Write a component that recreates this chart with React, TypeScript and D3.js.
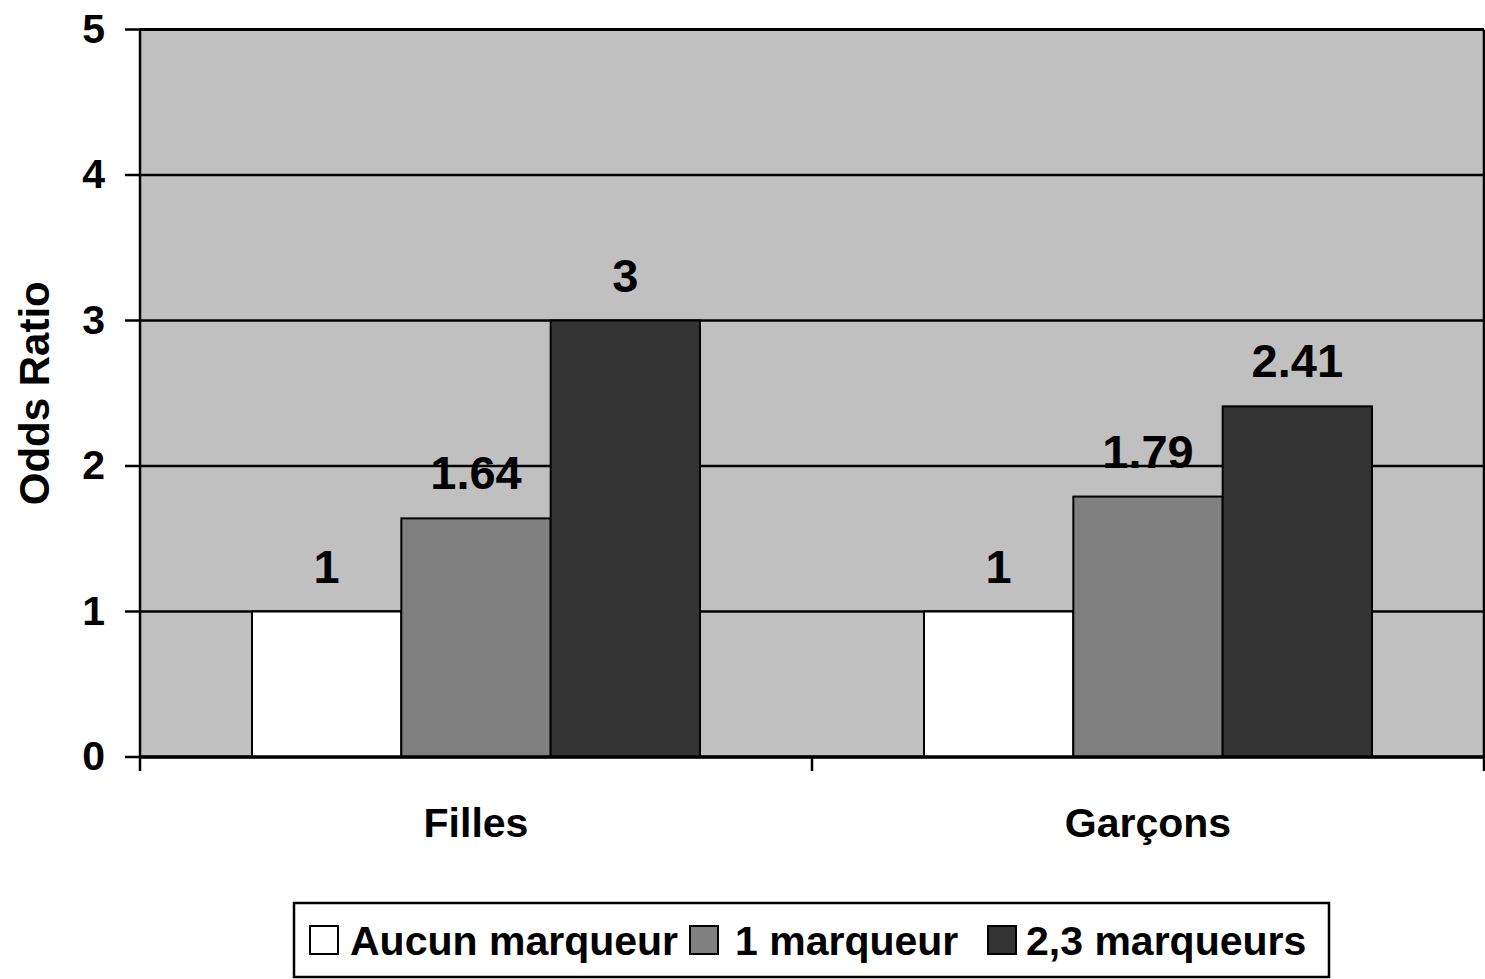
import React from "react";
import * as d3 from "d3";

const categories = ["Filles", "Garçons"];
const seriesNames = ["Aucun marqueur", "1 marqueur", "2,3 marqueurs"];
const seriesColors = ["#FFFFFF", "#808080", "#333333"];
const filles = [1, 1.64, 3];
const garcons = [1, 1.79, 2.41];
const valueLabels = [["1", "1.64", "3"], ["1", "1.79", "2.41"]];
const yTicks = [0, 1, 2, 3, 4, 5];

const W = 1485;
const H = 979;
const M = { left: 140, right: 1484, top: 29.5, bottom: 757 };
const FONT = "'Liberation Sans', Arial, sans-serif";

export default function App() {
  const data = [filles, garcons];
  const x0 = d3.scaleBand<string>().domain(categories).range([M.left, M.right]).paddingInner(0).paddingOuter(0);
  const bw = x0.bandwidth() / 4.5;
  const x1 = d3.scaleBand<number>().domain([0, 1, 2]).range([0, bw * 3]).padding(0);
  const y = d3.scaleLinear().domain([0, 5]).range([M.bottom, M.top]);

  const legendItems = [
    { sx: 310, tx: 350 },
    { sx: 690, tx: 735 },
    { sx: 988, tx: 1026 },
  ];

  return (
    <svg width={W} height={H} style={{ position: "absolute", left: 0, top: 0, fontFamily: FONT }}>
      <rect x={M.left} y={M.top} width={M.right - M.left} height={M.bottom - M.top} fill="#C0C0C0" />
      {yTicks.map((t) => (
        <g key={t}>
          <line x1={125} x2={M.right} y1={y(t)} y2={y(t)} stroke="#000" strokeWidth={2.5} />
          <text x={105} y={y(t) + 13} textAnchor="end" fontSize={41} fontWeight="bold" fill="#000">
            {t}
          </text>
        </g>
      ))}
      {data.map((vals, ci) => {
        const gx = (x0(categories[ci]) as number) + (x0.bandwidth() - bw * 3) / 2;
        return (
          <g key={ci}>
            {vals.map((v, si) => {
              const bx = gx + (x1(si) as number);
              return (
                <g key={si}>
                  <rect
                    x={bx}
                    y={y(v)}
                    width={x1.bandwidth()}
                    height={y(0) - y(v)}
                    fill={seriesColors[si]}
                    stroke="#000"
                    strokeWidth={2}
                  />
                  <text
                    x={bx + x1.bandwidth() / 2}
                    y={y(v) - 29}
                    textAnchor="middle"
                    fontSize={47}
                    fontWeight="bold"
                    fill="#000"
                  >
                    {valueLabels[ci][si]}
                  </text>
                </g>
              );
            })}
          </g>
        );
      })}
      {/* plot frame */}
      <line x1={M.left} x2={M.left} y1={M.top} y2={M.bottom + 14} stroke="#000" strokeWidth={2.5} />
      <line x1={M.right} x2={M.right} y1={M.top} y2={M.bottom + 14} stroke="#000" strokeWidth={2.5} />
      <line x1={M.left} x2={M.right} y1={M.top} y2={M.top} stroke="#000" strokeWidth={3} />
      <line x1={M.left} x2={M.right} y1={M.bottom} y2={M.bottom} stroke="#000" strokeWidth={3.5} />
      {categories.map((c, i) => {
        const bx = x0(c) as number;
        return (
          <g key={c}>
            {i > 0 && <line x1={bx} x2={bx} y1={M.bottom} y2={M.bottom + 14} stroke="#000" strokeWidth={2.5} />}
            <text x={bx + x0.bandwidth() / 2} y={837} textAnchor="middle" fontSize={41} fontWeight="bold" fill="#000">
              {c}
            </text>
          </g>
        );
      })}
      <text
        transform={`translate(49, ${(M.top + M.bottom) / 2}) rotate(-90)`}
        textAnchor="middle"
        fontSize={42}
        fontWeight="bold"
        fill="#000"
      >
        Odds Ratio
      </text>
      {/* legend */}
      <rect x={294} y={903} width={1035} height={74} fill="#fff" stroke="#000" strokeWidth={2.5} />
      {seriesNames.map((s, i) => (
        <g key={s}>
          <rect x={legendItems[i].sx} y={926} width={28} height={28} fill={seriesColors[i]} stroke="#000" strokeWidth={2} />
          <text x={legendItems[i].tx} y={955} fontSize={41} fontWeight="bold" fill="#000">
            {s}
          </text>
        </g>
      ))}
    </svg>
  );
}
